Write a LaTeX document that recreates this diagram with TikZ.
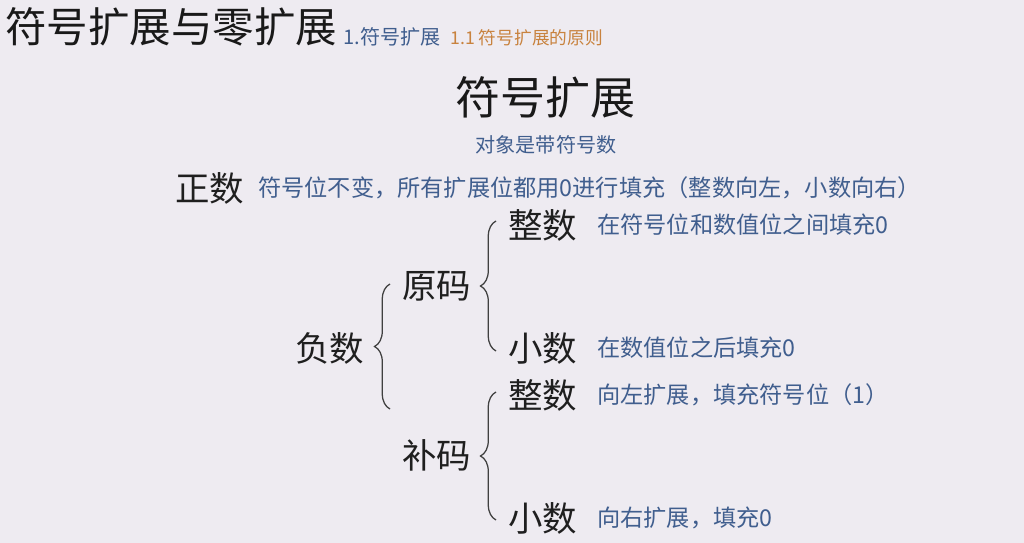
\documentclass[tikz,border=0pt]{standalone}
\usepackage{fontspec}
\setmainfont{Noto Sans CJK SC}
\usetikzlibrary{decorations.pathreplacing}

\definecolor{bgcol}{RGB}{238,235,241}
\definecolor{desccol}{RGB}{64,94,142}
\definecolor{subcol}{RGB}{200,130,62}

\tikzset{
	big/.style={anchor=west, inner sep=0pt, text=black!88, font=\fontsize{24.5}{26}\selectfont},
	desc/.style={anchor=west, inner sep=0pt, text=desccol, font=\fontsize{16.5}{18}\selectfont},
	curly/.style={decorate, decoration={brace, amplitude=11pt}, line width=0.9pt, draw=black!75}
}

\begin{document}
\begin{tikzpicture}[x=0.025cm, y=-0.025cm]
	\fill[bgcol] (0,0) rectangle (1024,543);
	\useasboundingbox (0,0) rectangle (1024,543);

	% title line
	\node[anchor=west, inner sep=0pt, text=black!90, font=\fontsize{29.5}{31}\selectfont] (title) at (5,27) {符号扩展与零扩展};
	\node[anchor=west, inner sep=0pt, text=desccol, font=\fontsize{14.3}{16}\selectfont] (sec) at (343,37) {1.符号扩展};
	\node[anchor=west, inner sep=0pt, text=subcol, font=\fontsize{12.6}{14}\selectfont] (subsec) at (450,38) {1.1 符号扩展的原则};

	% heading
	\node[inner sep=0pt, text=black!90, font=\fontsize{32}{34}\selectfont] (head) at (545,97) {符号扩展};
	\node[inner sep=0pt, text=desccol, font=\fontsize{14.3}{16}\selectfont] (obj) at (546,145) {对象是带符号数};

	% positive
	\node[big] (zheng) at (175,188) {正数};
	\node[desc] (zheng-d) at (258,188) {符号位不变，所有扩展位都用0进行填充（整数向左，小数向右）};

	% negative
	\node[big] (fu) at (295,348) {负数};
	\node[big] (yuan) at (402,286) {原码};
	\node[big] (bu) at (402,455) {补码};

	\node[big] (yuan-int) at (508,225) {整数};
	\node[desc] (yuan-int-d) at (597,225) {在符号位和数值位之间填充0};
	\node[big] (yuan-frac) at (508,348) {小数};
	\node[desc] (yuan-frac-d) at (597,348) {在数值位之后填充0};

	\node[big] (bu-int) at (508,395) {整数};
	\node[desc] (bu-int-d) at (597,395) {向左扩展，填充符号位（1）};
	\node[big] (bu-frac) at (508,518) {小数};
	\node[desc] (bu-frac-d) at (597,518) {向右扩展，填充0};

	% braces
	\coordinate (fu-top) at (390,284);
	\coordinate (fu-bot) at (390,409);
	\coordinate (yuan-top) at (496,221);
	\coordinate (yuan-bot) at (496,351);
	\coordinate (bu-top) at (496,392);
	\coordinate (bu-bot) at (496,520);
	\draw[curly] (fu-bot) -- (fu-top);
	\draw[curly] (yuan-bot) -- (yuan-top);
	\draw[curly] (bu-bot) -- (bu-top);
\end{tikzpicture}
\end{document}
